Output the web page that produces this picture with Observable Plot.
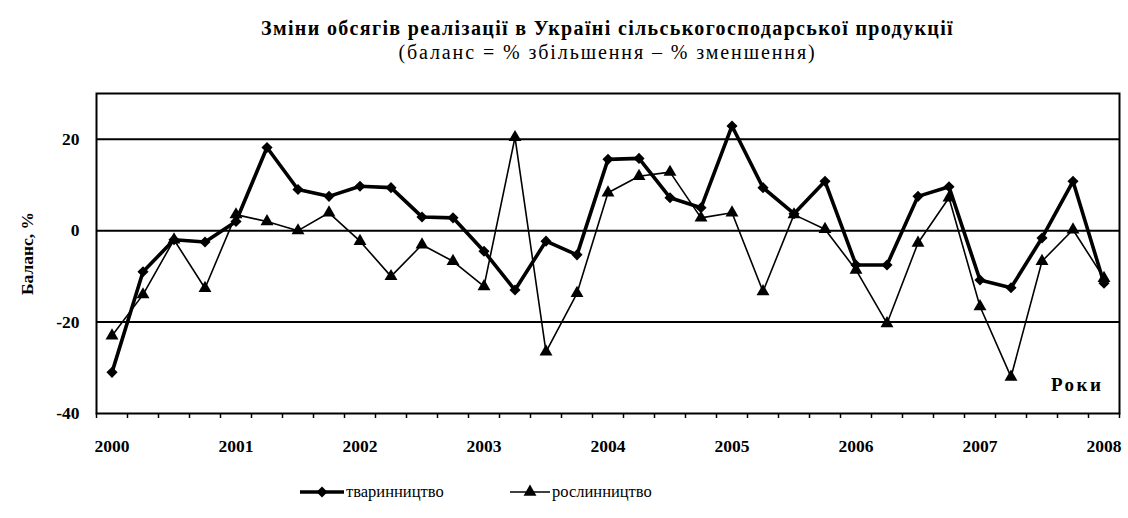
<!DOCTYPE html>
<html><head><meta charset="utf-8">
<script src="https://cdn.jsdelivr.net/npm/d3@7"></script>
<script src="https://cdn.jsdelivr.net/npm/@observablehq/plot@0.6"></script>
<style>
body{margin:0;background:#fff;font-family:"Liberation Serif",serif;color:#000;}
#top{position:relative;width:1128px;height:75px;}
#title{position:absolute;left:96px;right:9px;top:17px;text-align:center;font-weight:bold;font-size:20px;letter-spacing:1.35px;line-height:22px;}
#subtitle{position:absolute;left:96px;right:9px;top:41px;text-align:center;font-size:20px;letter-spacing:1.9px;line-height:22px;}
#legend{position:relative;width:1128px;height:58px;}
.lg{position:absolute;top:22px;height:20px;display:flex;align-items:center;font-size:16.5px;}
</style></head>
<body>
<div id="top"><div id="title">Зміни обсягів реалізації в Україні сільськогосподарської продукції</div>
<div id="subtitle">(баланс = % збільшення – % зменшення)</div></div>
<div id="chart"></div>
<div id="legend"></div>
<script>
const quarters = [2000,2000.25,2000.5,2000.75,2001,2001.25,2001.5,2001.75,2002,2002.25,2002.5,2002.75,2003,2003.25,2003.5,2003.75,2004,2004.25,2004.5,2004.75,2005,2005.25,2005.5,2005.75,2006,2006.25,2006.5,2006.75,2007,2007.25,2007.5,2007.75,2008];
const tvarynnytstvo = [-31,-9,-2,-2.5,2,18.2,9,7.5,9.7,9.4,3,2.8,-4.5,-13,-2.3,-5.3,15.6,15.8,7.2,5,22.9,9.4,3.7,10.8,-7.5,-7.5,7.5,9.6,-10.8,-12.5,-1.6,10.8,-11.5];
const roslynnytstvo = [-23,-14,-2,-12.6,3.5,2,0,3.9,-2.3,-10,-3.1,-6.7,-12.2,20.4,-26.5,-13.7,8.3,11.9,12.8,2.8,3.9,-13.3,3.5,0.3,-8.6,-20.3,-2.7,7.2,-16.6,-32,-6.7,0.2,-10.4];
const seriesNames = ["тваринництво","рослинництво"];
const yTicks = [-40,-20,0,20];
const gridValues = [-20,0,20];
const yearTicks = [2000,2001,2002,2003,2004,2005,2006,2007,2008];

const A = quarters.map((x,i)=>({x, y: tvarynnytstvo[i]}));
const B = quarters.map((x,i)=>({x, y: roslynnytstvo[i]}));
const font = "Liberation Serif";

const chart = Plot.plot({
  width: 1128, height: 385,
  marginTop: 18, marginBottom: 47, marginLeft: 96, marginRight: 9,
  style: {fontFamily: font, fontSize: "16px", background: "#fff", color: "#000"},
  x: {domain: [1999.875, 2008.125]},
  y: {domain: [-40, 30]},
  marks: [
    Plot.ruleY(gridValues, {stroke: "#000", strokeWidth: 2}),
    Plot.axisX({ticks: d3.range(1999.875, 2008.2, 0.25), tickSize: 5, tickFormat: () => "", label: null, strokeWidth: 1.5}),
    Plot.axisX({ticks: yearTicks, tickSize: 0, tickPadding: 26, tickFormat: d => String(d), label: null, fontWeight: "bold", fontSize: 17.5}),
    Plot.axisY({ticks: yTicks, tickSize: 0, tickPadding: 17, tickFormat: d => String(d), fontWeight: "bold", fontSize: 17.5, label: "Баланс, %", labelAnchor: "center", labelArrow: "none", labelOffset: 76}),
    Plot.line(B, {x: "x", y: "y", stroke: "#000", strokeWidth: 1.6}),
    Plot.line(A, {x: "x", y: "y", stroke: "#000", strokeWidth: 3.6}),
    Plot.dot(B, {x: "x", y: "y", symbol: "triangle", r: 4.8, fill: "#000", stroke: "none"}),
    Plot.dot(A, {x: "x", y: "y", symbol: "diamond2", r: 5, fill: "#000", stroke: "none"}),
    Plot.text(["Роки"], {frameAnchor: "bottom-right", dx: -16, dy: -23, fontWeight: "bold", fontSize: 19, textAnchor: "end"}),
    Plot.frame({stroke: "#000", strokeWidth: 2})
  ]
});
document.getElementById("chart").appendChild(chart);
d3.select(chart).selectAll("text").filter(function(){ return this.textContent === "Роки"; }).style("letter-spacing", "2.5px");

const lg = document.getElementById("legend");
function item(left, name, sym, sw, w, size) {
  const d = document.createElement("div");
  d.className = "lg"; d.style.left = left + "px";
  const s = d3.create("svg").attr("width", w).attr("height", 20);
  s.append("line").attr("x1", 0).attr("x2", w).attr("y1", 10).attr("y2", 10).attr("stroke", "#000").attr("stroke-width", sw);
  s.append("path").attr("d", d3.symbol(sym).size(size)()).attr("transform", `translate(${w/2},10)`).attr("fill", "#000");
  d.appendChild(s.node());
  const t = document.createElement("span"); t.textContent = name; t.style.marginLeft = "2px";
  d.appendChild(t);
  lg.appendChild(d);
}
item(300, seriesNames[0], d3.symbolDiamond2, 3.6, 44, 78);
item(510, seriesNames[1], d3.symbolTriangle, 1.6, 40, 72);
</script>
</body></html>
